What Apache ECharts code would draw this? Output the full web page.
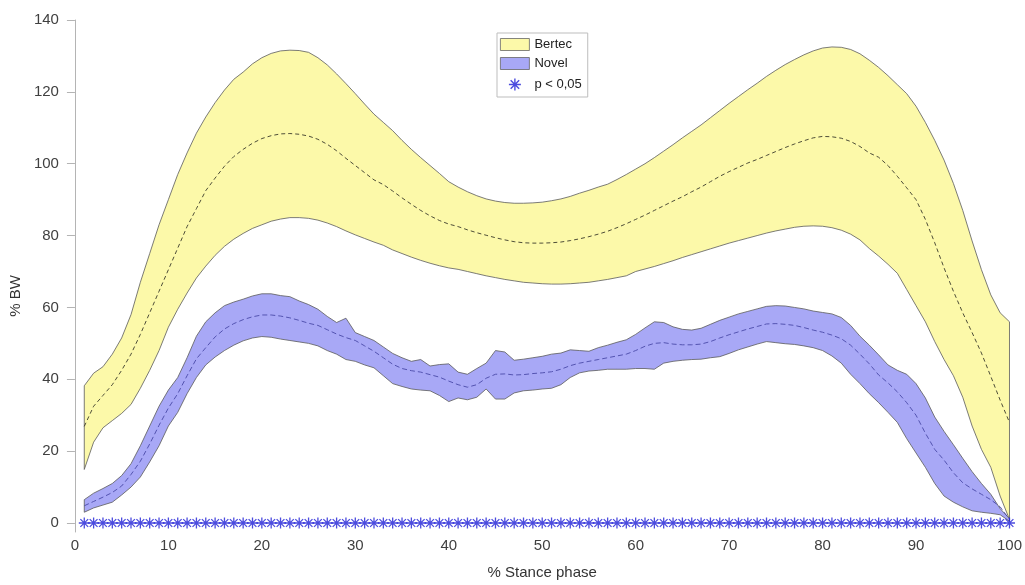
<!DOCTYPE html>
<html>
<head>
<meta charset="utf-8">
<script src="https://cdn.jsdelivr.net/npm/echarts@6/dist/echarts.min.js"></script>
<style>
  html, body { margin: 0; padding: 0; background: #fff; }
  #chart { width: 1025px; height: 585px; }
</style>
</head>
<body>
<div id="chart"></div>
<script>
// Stance phase samples (1..100 % of stance)
const stance = [];
for (let i = 1; i <= 100; i++) stance.push(i);

// Bertec force plate: mean ± SD band (% body weight)
const bertecUpper = [
  38.2, 41.7, 43.5, 47.0, 51.5, 58.0, 67.0, 75.0, 83.0, 90.0,
  97.0, 103.0, 108.5, 113.0, 117.0, 120.5, 123.5, 125.5, 127.8, 129.5,
  130.7, 131.4, 131.6, 131.5, 131.0, 129.5, 127.5, 125.0, 122.3, 119.5,
  116.6, 113.8, 111.5, 109.2, 106.5, 104.0, 101.7, 99.5, 97.3, 95.0,
  93.5, 92.2, 91.1, 90.2, 89.6, 89.2, 89.0, 89.0, 89.1, 89.3,
  89.7, 90.2, 90.9, 91.8, 92.6, 93.5, 94.3, 95.6, 97.0, 98.5,
  100.0, 101.7, 103.5, 105.3, 107.2, 109.0, 110.8, 112.8, 114.8, 116.8,
  118.7, 120.6, 122.4, 124.3, 126.0, 127.6, 129.0, 130.3, 131.4, 132.2,
  132.5, 132.4, 131.8, 130.6, 128.8, 126.8, 124.5, 122.0, 119.5, 116.0,
  111.5, 106.5, 101.0, 94.5, 87.0, 78.5, 70.5, 63.5, 58.5, 56.0
];
const bertecLower = [
  14.9, 22.5, 26.5, 28.5, 30.5, 33.0, 37.5, 42.5, 48.0, 54.5,
  59.5, 64.0, 68.2, 71.5, 74.5, 77.0, 79.0, 80.6, 82.0, 83.0,
  84.0, 84.6, 85.0, 85.0, 84.8, 84.3, 83.5, 82.5, 81.3, 80.2,
  79.2, 78.2, 77.3, 76.0, 75.0, 74.0, 73.1, 72.3, 71.6, 71.0,
  70.6, 70.0, 69.4, 68.8, 68.3, 67.8, 67.4, 67.0, 66.8, 66.6,
  66.5, 66.5, 66.6, 66.8, 67.0, 67.4, 67.8, 68.3, 68.8, 70.0,
  70.7, 71.4, 72.2, 73.0, 73.9, 74.7, 75.5, 76.3, 77.1, 77.9,
  78.6, 79.3, 80.0, 80.7, 81.3, 81.8, 82.3, 82.6, 82.7, 82.6,
  82.2, 81.5, 80.4, 78.8, 76.4, 74.3, 72.0, 69.5, 65.0, 60.5,
  56.0, 50.5, 45.5, 41.0, 35.0, 27.0, 20.5, 15.5, 7.5, 1.0
];
const bertecMean = [
  26.9, 32.5, 35.5, 38.5, 42.5, 47.0, 52.5, 58.5, 64.5, 70.5,
  76.5, 82.5, 87.5, 92.5, 96.0, 99.3, 102.0, 104.0, 105.7, 107.0,
  107.8, 108.3, 108.4, 108.2, 107.7, 106.8, 105.4, 103.6, 101.5, 99.5,
  97.5, 95.5, 94.2, 92.4, 90.5, 88.7, 87.0, 85.5, 84.2, 83.2,
  82.5, 81.6, 80.8, 80.1, 79.4, 78.8, 78.3, 78.0, 77.9, 77.9,
  78.0, 78.2, 78.6, 79.1, 79.7, 80.4, 81.2, 82.2, 83.3, 84.5,
  85.7, 87.0, 88.3, 89.6, 90.8, 92.2, 93.5, 95.0, 96.5, 97.8,
  99.0, 100.2, 101.2, 102.3, 103.4, 104.5, 105.5, 106.4, 107.2, 107.6,
  107.5, 107.1, 106.2, 104.8, 103.0, 101.8, 99.5, 96.5, 93.3, 90.0,
  84.5, 78.0, 71.0, 64.5, 58.5, 53.0, 47.3, 40.8, 34.2, 28.0
];

// Novel device: mean ± SD band (% body weight)
const novelUpper = [
  6.5, 8.3, 9.6, 11.0, 13.2, 16.5, 21.5, 27.0, 32.5, 37.0,
  40.5, 46.0, 52.0, 56.0, 58.5, 60.5, 61.5, 62.3, 63.2, 63.8,
  63.8, 63.3, 63.0, 61.8, 60.8, 59.5, 57.5, 55.8, 57.0, 53.0,
  51.9, 50.8, 49.0, 47.2, 46.0, 45.0, 45.5, 43.7, 44.1, 44.3,
  42.0, 41.4, 43.0, 44.5, 48.0, 47.6, 45.3, 45.6, 46.0, 46.4,
  47.0, 47.3, 48.2, 48.0, 47.8, 48.8, 49.5, 50.3, 51.0, 52.5,
  54.3, 56.0, 55.8, 54.6, 53.9, 53.7, 54.2, 55.3, 56.4, 57.3,
  58.2, 58.9, 59.6, 60.3, 60.5, 60.4, 60.0, 59.6, 59.0, 58.6,
  58.2, 57.2, 55.0, 52.0, 49.5, 46.8, 44.0, 42.5, 41.4, 38.8,
  34.8, 29.5, 25.5, 21.8, 18.0, 14.3, 11.0, 8.0, 4.0, 1.2
];
const novelLower = [
  3.0, 4.2, 5.0, 5.8, 7.8, 10.0, 12.8, 17.0, 21.5, 27.0,
  30.8, 36.0, 40.5, 44.0, 46.2, 48.0, 49.5, 50.7, 51.5, 51.9,
  51.7, 51.2, 50.8, 50.4, 50.0, 49.3, 48.0, 47.0, 45.5, 45.0,
  44.0, 43.2, 41.0, 38.8, 38.0, 37.3, 37.0, 36.8, 35.5, 33.8,
  34.8, 34.3, 35.0, 37.3, 34.5, 34.5, 36.2, 36.8, 37.0, 37.3,
  37.5, 38.5, 40.5, 41.8, 42.3, 42.5, 42.8, 42.8, 42.8, 43.0,
  43.0, 42.8, 44.5, 45.0, 45.3, 45.5, 45.6, 46.0, 46.3, 47.2,
  48.2, 49.0, 49.8, 50.5, 50.2, 49.9, 49.7, 49.3, 48.8, 48.0,
  46.5, 44.5, 41.4, 38.8, 36.0, 33.5, 30.8, 28.0, 23.5, 19.5,
  15.5, 11.0, 7.5, 5.8, 4.5, 3.4, 3.0, 2.7, 2.3, 0.5
];
const novelMean = [
  4.8, 6.0, 7.2, 8.5, 10.3, 13.5, 17.2, 22.0, 27.2, 32.0,
  36.0, 41.0, 45.7, 48.8, 51.8, 54.0, 55.5, 56.6, 57.4, 57.9,
  57.9, 57.6, 57.1, 56.4, 55.6, 55.0, 53.8, 52.6, 51.6, 50.8,
  49.3, 47.8, 46.0, 44.2, 43.0, 42.4, 42.0, 41.3, 40.6, 39.5,
  38.5, 37.8, 38.5, 40.3, 41.4, 41.5, 41.2, 41.3, 41.6, 41.8,
  42.1, 42.8, 43.8, 44.5, 45.0, 45.5, 46.0, 46.5, 47.0, 48.0,
  49.2, 50.0, 50.2, 49.8, 49.6, 49.6, 49.8, 50.5, 51.5, 52.4,
  53.2, 54.0, 54.7, 55.4, 55.5, 55.3, 55.0, 54.4, 53.7, 53.1,
  52.3, 51.3, 49.5, 47.0, 44.3, 41.2, 39.0, 36.5, 33.5, 30.0,
  25.0, 20.5, 17.5, 14.0, 11.2, 9.5, 8.0, 6.5, 4.5, 1.0
];

// Significance markers (p < 0,05) drawn along the zero line
const significant = stance.slice();

const yTicks = [0, 20, 40, 60, 80, 100, 120, 140];
const xTicks = [0, 10, 20, 30, 40, 50, 60, 70, 80, 90, 100];

const FONT = '"Liberation Sans", Arial, Helvetica, sans-serif';
const asterisk = 'path://M0,5 L10,5 M5,0 L5,10 M1.46,1.46 L8.54,8.54 M8.54,1.46 L1.46,8.54';

// Filled band between an upper and a lower curve, outlined like a patch
function band(name, upper, lower, fill) {
  return {
    type: 'custom',
    name: name,
    coordinateSystem: 'cartesian2d',
    itemStyle: { color: fill, borderColor: '#5a5a5a', borderWidth: 0.8 },
    data: stance.map((x, i) => [x, upper[i], lower[i]]),
    encode: { x: 0, y: [1, 2] },
    z: 1,
    renderItem: function (params, api) {
      if (params.dataIndex !== 0) return null;
      const pts = [];
      for (let i = 0; i < stance.length; i++) pts.push(api.coord([stance[i], upper[i]]));
      for (let i = stance.length - 1; i >= 0; i--) pts.push(api.coord([stance[i], lower[i]]));
      return {
        type: 'polygon',
        shape: { points: pts },
        style: { fill: fill, stroke: '#5a5a5a', lineWidth: 0.8 }
      };
    }
  };
}

function meanLine(name, values, color, dash) {
  return {
    type: 'line',
    name: name,
    data: stance.map((x, i) => [x, values[i]]),
    showSymbol: false,
    symbol: 'none',
    lineStyle: { color: color, width: 0.9, type: dash },
    z: 3,
    silent: true
  };
}

const chart = echarts.init(document.getElementById('chart'), null, { renderer: 'canvas' });

chart.setOption({
  animation: false,
  backgroundColor: '#ffffff',
  textStyle: { fontFamily: FONT },
  grid: { left: 73, right: 12, top: 20, bottom: 45, containLabel: false },
  legend: {
    orient: 'vertical',
    left: 497,
    top: 33,
    padding: [5, 6, 4, 3],
    itemGap: 6,
    itemWidth: 29,
    itemHeight: 12,
    backgroundColor: '#ffffff',
    borderColor: '#bdbdbd',
    borderWidth: 1,
    textStyle: { fontFamily: FONT, fontSize: 13, color: '#222' },
    data: [
      { name: 'Bertec', icon: 'rect', itemStyle: { color: '#fcf9a9', borderColor: '#666', borderWidth: 0.8 } },
      { name: 'Novel', icon: 'rect', itemStyle: { color: '#a8a8f6', borderColor: '#666', borderWidth: 0.8 } },
      { name: 'p < 0,05', icon: asterisk, itemStyle: { color: 'none', borderColor: '#1f1fd6', borderWidth: 1.4 } }
    ]
  },
  xAxis: {
    type: 'value',
    min: 0,
    max: 100,
    interval: 10,
    name: '% Stance phase',
    nameLocation: 'middle',
    nameGap: 33,
    nameTextStyle: { fontFamily: FONT, fontSize: 15, color: '#333' },
    axisLine: { show: false },
    axisTick: { show: false },
    splitLine: { show: false },
    axisLabel: {
      fontFamily: FONT, fontSize: 15, color: '#404040', margin: 6,
      customValues: xTicks
    }
  },
  yAxis: {
    type: 'value',
    min: -2.5,
    max: 140,
    name: '% BW',
    nameLocation: 'middle',
    nameGap: 44,
    nameTextStyle: { fontFamily: FONT, fontSize: 15, color: '#333', padding: [0, 40, 0, 0] },
    axisLine: { show: true, onZero: false, lineStyle: { color: '#b4b4b4', width: 1 } },
    axisTick: { show: true, inside: false, length: 8, lineStyle: { color: '#b4b4b4' }, customValues: yTicks },
    axisLabel: {
      fontFamily: FONT, fontSize: 15, color: '#404040', margin: 16,
      customValues: yTicks
    },
    splitLine: { show: false }
  },
  series: [
    band('Bertec', bertecUpper, bertecLower, '#fcf9a9'),
    band('Novel', novelUpper, novelLower, '#a8a8f6'),
    meanLine('Bertec mean', bertecMean, '#3a3a2a', [4, 3]),
    meanLine('Novel mean', novelMean, '#4a4aa8', [5, 3]),
    {
      type: 'scatter',
      name: 'p < 0,05',
      data: significant.map(x => [x, 0]),
      symbol: asterisk,
      symbolSize: 11,
      itemStyle: { color: 'none', borderColor: '#1f1fd6', borderWidth: 1.3 },
      z: 5,
      silent: true
    }
  ]
});
</script>
</body>
</html>
